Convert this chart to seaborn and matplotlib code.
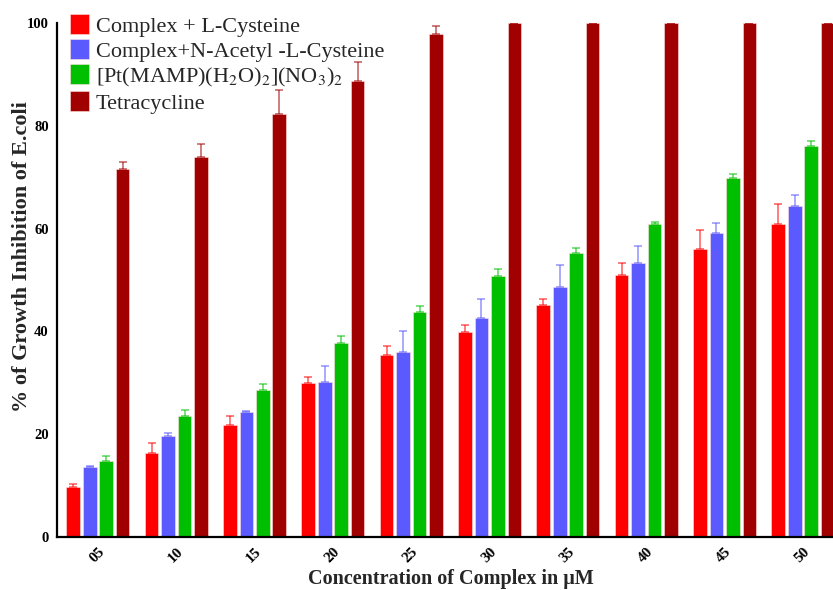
import matplotlib
matplotlib.use("Agg")
import matplotlib.pyplot as plt
from matplotlib.patches import Patch
import numpy as np
import pandas as pd
import seaborn as sns

# Concentrations (µM) and mean % inhibition with upper error (SD)
concentrations = ["05", "10", "15", "20", "25", "30", "35", "40", "45", "50"]

cys = [9.7, 16.3, 21.8, 30.0, 35.5, 39.9, 45.2, 50.9, 56.0, 60.8]
cys_err = [0.7, 1.9, 1.7, 1.1, 1.7, 1.4, 1.2, 2.5, 3.7, 3.9]

nac = [13.6, 19.7, 24.3, 30.2, 35.9, 42.7, 48.6, 53.3, 59.1, 64.4]
nac_err = [0.3, 0.6, 0.3, 3.1, 4.2, 3.7, 4.4, 3.4, 2.0, 2.1]

pt = [14.8, 23.5, 28.6, 37.7, 43.7, 50.8, 55.2, 60.9, 69.9, 76.0]
pt_err = [1.0, 1.2, 1.1, 1.5, 1.3, 1.4, 1.0, 0.4, 0.8, 1.1]

tet = [71.6, 73.9, 82.2, 88.7, 97.9, 100, 100, 100, 100, 100]
tet_err = [1.3, 2.6, 4.7, 3.7, 1.5, 0, 0, 0, 0, 0]

series_names = [
    "Complex + L-Cysteine",
    "Complex+N-Acetyl -L-Cysteine",
    r"[Pt(MAMP)(H$_2$O)$_2$](NO$_3$)$_2$",
    "Tetracycline",
]
series_values = [cys, nac, pt, tet]
series_errors = [cys_err, nac_err, pt_err, tet_err]
colors = ["#FF0000", "#5A5AFF", "#00BF00", "#A00000"]

rows = []
for name, vals in zip(series_names, series_values):
    for c, v in zip(concentrations, vals):
        rows.append({"conc": c, "value": v, "series": name})
df = pd.DataFrame(rows)

sns.set_style("white")
plt.rcParams["font.family"] = ["Liberation Serif", "DejaVu Serif"]
plt.rcParams["mathtext.fontset"] = "stix"

fig = plt.figure(figsize=(8.33, 5.90), dpi=100)
ax = fig.add_axes([57 / 833, 53 / 590, 1 - 57 / 833, (537 - 23) / 590])

sns.barplot(
    data=df, x="conc", y="value", hue="series", hue_order=series_names,
    palette=colors, width=0.84, gap=0.17, errorbar=None, legend=False,
    edgecolor="#FFE0E0", linewidth=0.4, saturation=1, ax=ax,
)

# upper-only error bars on each bar
for container, errs, col in zip(ax.containers, series_errors, colors):
    xs = [p.get_x() + p.get_width() / 2 for p in container.patches]
    hs = [p.get_height() for p in container.patches]
    ax.errorbar(xs, hs, yerr=[np.zeros(len(errs)), errs], fmt="none",
                ecolor=col, alpha=0.55, elinewidth=1.3, capsize=2.6,
                capthick=1.3, zorder=3)

ax.set_xlim(-0.523, 9.383)
ax.set_ylim(0, 100)
ax.set_yticks([0, 20, 40, 60, 80, 100])

for s in ["top", "right"]:
    ax.spines[s].set_visible(False)
for s in ["left", "bottom"]:
    ax.spines[s].set_color("black")
    ax.spines[s].set_linewidth(1.6)

ax.tick_params(axis="both", direction="out", length=4, width=1.5,
               colors="black", labelsize=10.5, pad=2)
for lab in ax.get_yticklabels():
    lab.set_fontweight("bold")
for lab in ax.get_xticklabels():
    lab.set_fontweight("bold")
    lab.set_rotation(45)
    lab.set_ha("right")
    lab.set_rotation_mode("anchor")
    lab.set_fontsize(11)

ax.set_xlabel("Concentration of Complex in μM", fontsize=14.5,
              fontweight="bold")
ax.xaxis.set_label_coords(0.508, -0.062)
ax.set_ylabel("% of Growth Inhibition of E.coli", fontsize=16,
              fontweight="bold")
ax.yaxis.set_label_coords(-0.0325, 0.545)

handles = [Patch(facecolor=c, edgecolor="#FFE0E0", linewidth=0.4) for c in colors]
fig.legend(handles, series_names, loc="upper left",
           bbox_to_anchor=(70 / 833, 1 - 14 / 590),
           bbox_transform=fig.transFigure, frameon=False, fontsize=16,
           handlelength=0.85, handleheight=1.0, handletextpad=0.3,
           labelspacing=0.12, borderpad=0, borderaxespad=0)

fig.savefig("out.png", dpi=100)
